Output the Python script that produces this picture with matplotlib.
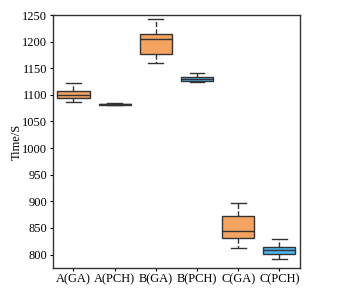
import matplotlib
matplotlib.use('Agg')
import matplotlib.pyplot as plt

plt.rcParams['font.family'] = ['Liberation Serif', 'DejaVu Serif']

labels = ['A(GA)', 'A(PCH)', 'B(GA)', 'B(PCH)', 'C(GA)', 'C(PCH)']
whislo = [1087, 1080.5, 1159, 1125, 812, 792]
q1 = [1095, 1081.5, 1177, 1126, 831, 801]
med = [1100, 1082.5, 1205, 1130.5, 845, 809]
q3 = [1108, 1083.5, 1215, 1134, 872.5, 815]
whishi = [1123, 1084.5, 1242.5, 1140.5, 896, 830]
colors = ['#F4A460', '#F4A460', '#F4A460', '#4DB8F0', '#F4A460', '#4DB8F0']

stats = []
for i in range(len(labels)):
    stats.append({'label': labels[i], 'whislo': whislo[i], 'q1': q1[i], 'med': med[i],
                  'q3': q3[i], 'whishi': whishi[i], 'fliers': []})

fig = plt.figure(figsize=(3.5, 3.0), dpi=100)
ax = fig.add_axes([0.151, 0.107, 0.706, 0.843])

bp = ax.bxp(stats, widths=0.78, patch_artist=True,
            boxprops=dict(edgecolor='#333333', linewidth=1.0),
            medianprops=dict(color='#333333', linewidth=1.0),
            whiskerprops=dict(color='#333333', linewidth=1.0, linestyle='--'),
            capprops=dict(color='#333333', linewidth=1.0),
            capwidths=0.36)
for patch, c in zip(bp['boxes'], colors):
    patch.set_facecolor(c)

ax.set_ylim(775, 1250)
ax.set_xlim(0.5, 6.5)
ax.set_yticks([800, 850, 900, 950, 1000, 1050, 1100, 1150, 1200, 1250])
ax.set_ylabel('Time/S', fontsize=9, labelpad=0)
ax.tick_params(axis='both', labelsize=9, length=2.5, width=0.8, pad=1.5)
for s in ax.spines.values():
    s.set_color('#333333')
    s.set_linewidth(1.0)

fig.savefig('out.png', dpi=100)
